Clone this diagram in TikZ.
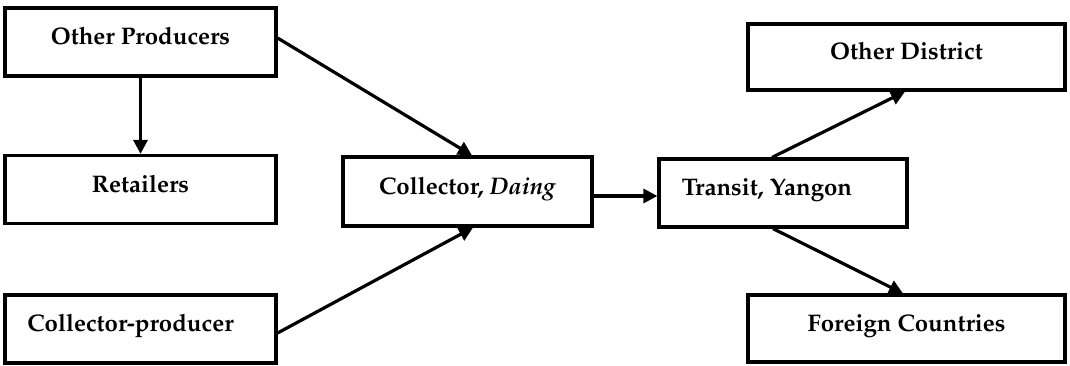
\documentclass[tikz,border=0pt]{standalone}
\usepackage[T1]{fontenc}
\usepackage{mathpazo}
\usetikzlibrary{arrows.meta}
\begin{document}
\begin{tikzpicture}[x=1pt,y=-1pt,
  box/.style={draw,line width=3.2pt,minimum width=271pt,minimum height=68pt,inner sep=0pt,
    text height=10pt,text depth=5pt,font=\fontsize{24}{28}\selectfont\bfseries},
  flow/.style={line width=3.2pt,-{Triangle[length=14pt,width=14pt]}}]
\useasboundingbox (0,0) rectangle (1070,365);
\node[box] (op) at (140.5,42) {Other Producers};
\node[box] (ret) at (140.5,189.5) {Retailers};
\node[box] (cp) at (140.5,329) {\hspace*{-20pt}Collector-producer};
\node[box,minimum width=249pt,minimum height=69pt] (cd) at (467.5,191.5) {Collector, \textit{Daing}};
\node[box,minimum width=248pt,minimum height=68pt] (ty) at (783,193) {\hspace*{-32pt}Transit, Yangon};
\node[box,minimum width=317pt,minimum height=66pt] (od) at (906.5,57) {Other District};
\node[box,minimum width=317pt,minimum height=67pt] (fc) at (906.5,328.5) {Foreign Countries};
\draw[flow] (op.south) -- (ret.north);
\draw[flow] ([yshift=4pt]op.east) -- ([xshift=4.5pt]cd.north);
\draw[flow] ([yshift=-4pt]cp.east) -- ([xshift=5.5pt]cd.south);
\draw[flow] ([yshift=-4.5pt]cd.east) -- ([yshift=-4.5pt]cd.east -| ty.west);
\draw[flow] ([xshift=-11pt]ty.north) -- ([xshift=-1.5pt]od.south);
\draw[flow] ([xshift=-10pt]ty.south) -- ([xshift=-3.5pt]fc.north);
\end{tikzpicture}
\end{document}
